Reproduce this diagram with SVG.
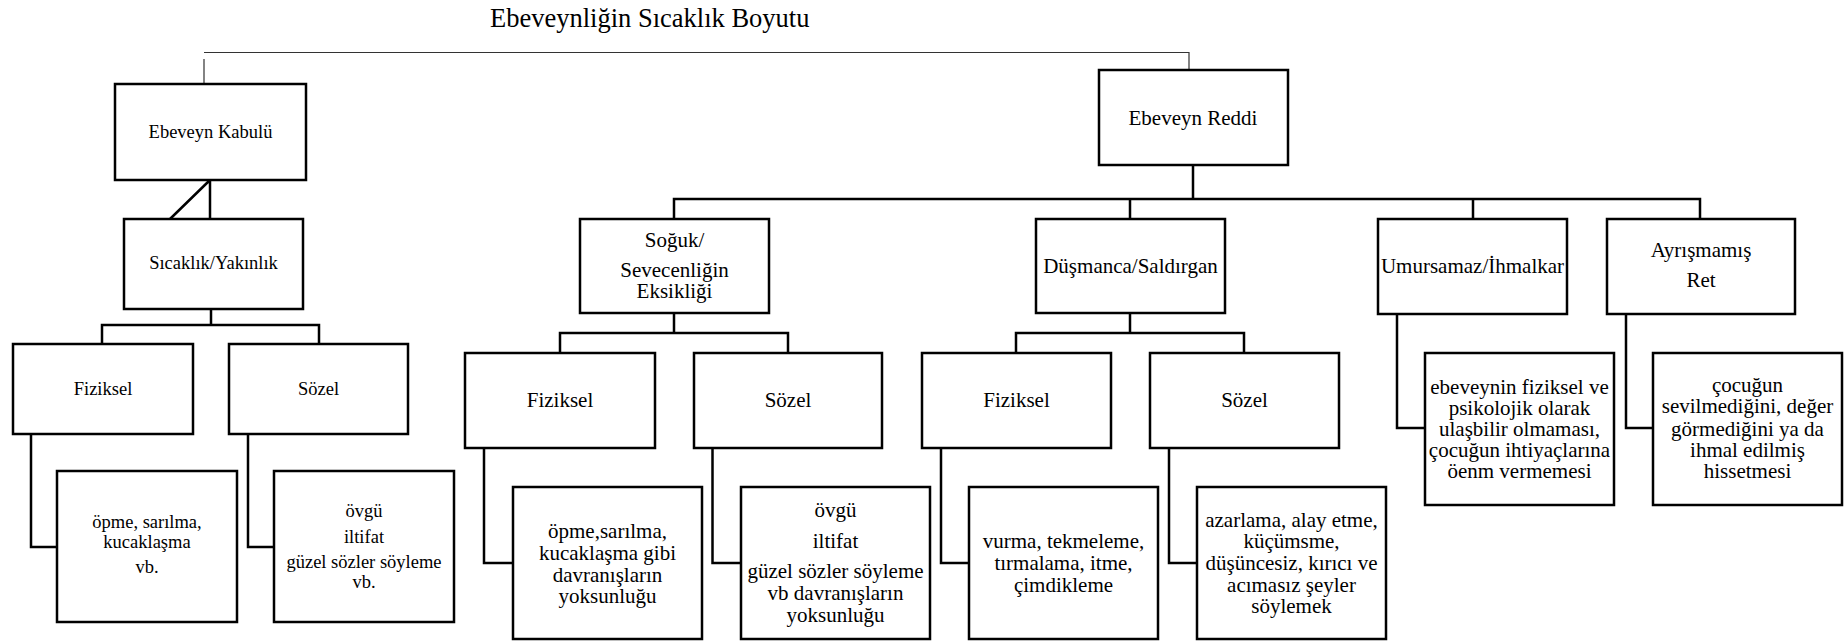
<svg xmlns="http://www.w3.org/2000/svg" width="1846" height="641" viewBox="0 0 1846 641" font-family="'Liberation Serif', 'DejaVu Serif', serif">
<style>
.b{fill:#fff;stroke:#000;stroke-width:2.5}
.c{fill:none;stroke:#000;stroke-width:2.5}
.thin{fill:none;stroke:#333;stroke-width:1.2}
text{font-family:'Liberation Serif','DejaVu Serif',serif;fill:#000;text-anchor:middle}
.s{font-size:18.5px}
.m{font-size:21px}
.t{font-size:26.5px;text-anchor:start}
</style>
<rect width="1846" height="641" fill="#fff"/>
<text class="t" x="490" y="27">Ebeveynliğin Sıcaklık Boyutu</text>
<g id="connectors">
<path class="thin" d="M204 52.5H1189V70M204 59V84"/>
<path class="c" d="M210 180V219M210 180L170 219M211 309V325M102 344V325H319V344"/>
<path class="c" d="M31 434V547H57M248 434V547H274"/>
<path class="c" d="M1193 165V199M674 219V199H1700V219M1130 199V219M1473 199V219"/>
<path class="c" d="M674 313V333M560 353V333H788V353M1130 313V333M1016 353V333H1244V353"/>
<path class="c" d="M484 448V563H513M712.5 448V563H741M941 448V563H969M1169 448V563H1197"/>
<path class="c" d="M1397 314V428H1425M1626 314V428H1653"/>
</g>
<g id="kabul"><rect class="b" x="115" y="84" width="191" height="96"/><text class="s" x="210.5" y="138">Ebeveyn Kabulü</text></g>
<g id="sicaklik"><rect class="b" x="124" y="219" width="179" height="90"/><text class="s" x="213.5" y="269">Sıcaklık/Yakınlık</text></g>
<g id="k-fiziksel"><rect class="b" x="13" y="344" width="180" height="90"/><text class="s" x="103" y="395">Fiziksel</text></g>
<g id="k-sozel"><rect class="b" x="229" y="344" width="179" height="90"/><text class="s" x="318.5" y="395">Sözel</text></g>
<g id="k-fiziksel-ornek"><rect class="b" x="57" y="471" width="180" height="151"/><text class="s" x="147"><tspan x="147" y="528">öpme, sarılma,</tspan><tspan x="147" y="548">kucaklaşma</tspan><tspan x="147" y="573">vb.</tspan></text></g>
<g id="k-sozel-ornek"><rect class="b" x="274" y="471" width="180" height="151"/><text class="s" x="364"><tspan x="364" y="517">övgü</tspan><tspan x="364" y="543">iltifat</tspan><tspan x="364" y="568">güzel sözler söyleme</tspan><tspan x="364" y="588">vb.</tspan></text></g>
<g id="red"><rect class="b" x="1099" y="70" width="189" height="95"/><text class="m" x="1193" y="125">Ebeveyn Reddi</text></g>
<g id="soguk"><rect class="b" x="580" y="219" width="189" height="94"/><text class="m" x="674.5"><tspan x="674.5" y="247">Soğuk/</tspan><tspan x="674.5" y="277">Sevecenliğin</tspan><tspan x="674.5" y="298">Eksikliği</tspan></text></g>
<g id="dusmanca"><rect class="b" x="1036" y="219" width="189" height="94"/><text class="m" x="1130.5" y="273">Düşmanca/Saldırgan</text></g>
<g id="umursamaz"><rect class="b" x="1378" y="219" width="189" height="95"/><text class="m" x="1472.5" y="273">Umursamaz/İhmalkar</text></g>
<g id="ayrismamis"><rect class="b" x="1607" y="219" width="188" height="95"/><text class="m" x="1701"><tspan x="1701" y="257">Ayrışmamış</tspan><tspan x="1701" y="287">Ret</tspan></text></g>
<g id="s-fiziksel"><rect class="b" x="465" y="353" width="190" height="95"/><text class="m" x="560" y="407">Fiziksel</text></g>
<g id="s-sozel"><rect class="b" x="694" y="353" width="188" height="95"/><text class="m" x="788" y="407">Sözel</text></g>
<g id="d-fiziksel"><rect class="b" x="922" y="353" width="189" height="95"/><text class="m" x="1016.5" y="407">Fiziksel</text></g>
<g id="d-sozel"><rect class="b" x="1150" y="353" width="189" height="95"/><text class="m" x="1244.5" y="407">Sözel</text></g>
<g id="s-fiziksel-ornek"><rect class="b" x="513" y="487" width="189" height="152"/><text class="m" x="607.5"><tspan x="607.5" y="538">öpme,sarılma,</tspan><tspan x="607.5" y="560">kucaklaşma gibi</tspan><tspan x="607.5" y="582">davranışların</tspan><tspan x="607.5" y="603">yoksunluğu</tspan></text></g>
<g id="s-sozel-ornek"><rect class="b" x="741" y="487" width="189" height="152"/><text class="m" x="835.5"><tspan x="835.5" y="517">övgü</tspan><tspan x="835.5" y="548">iltifat</tspan><tspan x="835.5" y="578">güzel sözler söyleme</tspan><tspan x="835.5" y="600">vb davranışların</tspan><tspan x="835.5" y="622">yoksunluğu</tspan></text></g>
<g id="d-fiziksel-ornek"><rect class="b" x="969" y="487" width="189" height="152"/><text class="m" x="1063.5"><tspan x="1063.5" y="548">vurma, tekmeleme,</tspan><tspan x="1063.5" y="570">tırmalama, itme,</tspan><tspan x="1063.5" y="592">çimdikleme</tspan></text></g>
<g id="d-sozel-ornek"><rect class="b" x="1197" y="487" width="189" height="152"/><text class="m" x="1291.5"><tspan x="1291.5" y="527">azarlama, alay etme,</tspan><tspan x="1291.5" y="548">küçümsme,</tspan><tspan x="1291.5" y="570">düşüncesiz, kırıcı ve</tspan><tspan x="1291.5" y="592">acımasız şeyler</tspan><tspan x="1291.5" y="613">söylemek</tspan></text></g>
<g id="u-ornek"><rect class="b" x="1425" y="353" width="189" height="152"/><text class="m" x="1519.5"><tspan x="1519.5" y="394">ebeveynin fiziksel ve</tspan><tspan x="1519.5" y="415">psikolojik olarak</tspan><tspan x="1519.5" y="436">ulaşbilir olmaması,</tspan><tspan x="1519.5" y="457">çocuğun ihtiyaçlarına</tspan><tspan x="1519.5" y="478">öenm vermemesi</tspan></text></g>
<g id="a-ornek"><rect class="b" x="1653" y="353" width="189" height="152"/><text class="m" x="1747.5"><tspan x="1747.5" y="392">çocuğun</tspan><tspan x="1747.5" y="413">sevilmediğini, değer</tspan><tspan x="1747.5" y="436">görmediğini ya da</tspan><tspan x="1747.5" y="457">ihmal edilmiş</tspan><tspan x="1747.5" y="478">hissetmesi</tspan></text></g>
</svg>
